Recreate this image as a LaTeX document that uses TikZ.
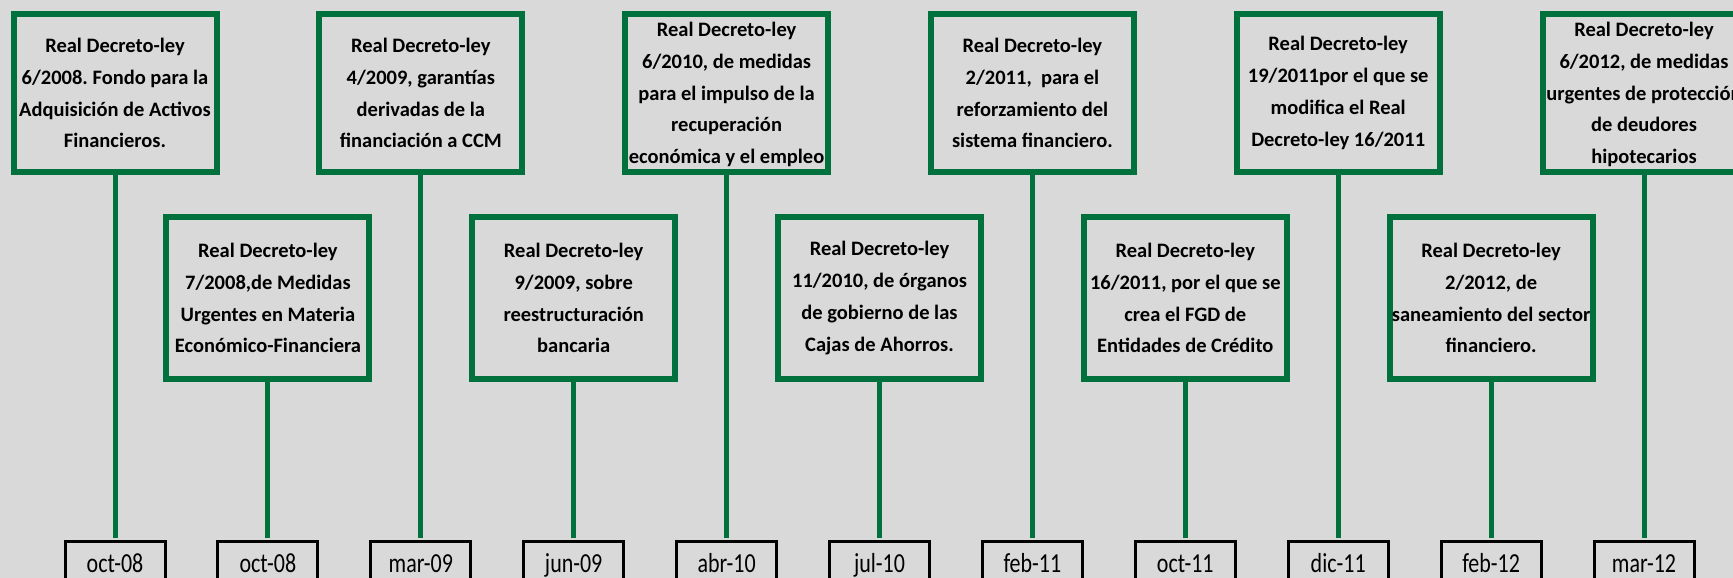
\documentclass[tikz,border=0pt]{standalone}
\usepackage{fontspec}
\usepackage{graphicx}
\setmainfont{Carlito}
\frenchspacing
\definecolor{bggray}{HTML}{D9D9D9}
\definecolor{lawgreen}{RGB}{0,112,60}
\tikzset{
  lawbox/.style={draw=lawgreen, line width=6pt, fill=bggray, inner sep=0pt,
    minimum width=203pt, align=center,
    font=\fontsize{20.5}{31.8}\selectfont\bfseries},
  upbox/.style={lawbox, minimum height=158pt},
  lowbox/.style={lawbox, minimum height=162pt},
  datebox/.style={draw=black, line width=3pt, fill=bggray, inner sep=0pt,
    minimum width=100pt, text height=31.5pt, text depth=25pt, anchor=north,
    font=\fontsize{22}{26}\selectfont},
  conn/.style={draw=lawgreen, line width=5pt, shorten >=1.5pt}
}
\newcommand{\dtxt}[1]{\scalebox{1}[1.25]{#1}}
\begin{document}
\begin{tikzpicture}[x=1pt,y=-1pt]
\fill[bggray] (0,0) rectangle (1733,578);
\useasboundingbox (0,0) rectangle (1733,578);
\clip (0,0) rectangle (1733,578);

% upper boxes
\node[upbox] (b0) at (115,93) {Real Decreto-ley\\6/2008. Fondo para la\\Adquisición de Activos\\Financieros.};
\node[upbox] (b2) at (420.8,93) {Real Decreto-ley\\4/2009, garantías\\derivadas de la\\financiación a CCM};
\node[upbox, text depth=-5pt] (b4) at (726.6,93) {Real Decreto-ley\\6/2010, de medidas\\para el impulso de la\\recuperación\\económica y el empleo};
\node[upbox] (b6) at (1032.4,93) {Real Decreto-ley\\2/2011,\ \ para el\\reforzamiento del\\sistema financiero.};
\node[upbox] (b8) at (1338.2,93) {Real Decreto-ley\\19/2011por el que se\\modifica el Real\\Decreto-ley 16/2011};
\node[upbox, text depth=-5pt] (b10) at (1644,93) {Real Decreto-ley\\6/2012, de medidas\\urgentes de protección\\de deudores\\hipotecarios};

% lower boxes
\node[lowbox] (b1) at (267.9,298) {Real Decreto-ley\\7/2008,de Medidas\\Urgentes en Materia\\Económico-Financiera};
\node[lowbox] (b3) at (573.7,298) {Real Decreto-ley\\9/2009, sobre\\reestructuración\\bancaria};
\node[lowbox] (b5) at (879.5,298) {Real Decreto-ley\\11/2010, de órganos\\de gobierno de las\\Cajas de Ahorros.};
\node[lowbox] (b7) at (1185.3,298) {Real Decreto-ley\\16/2011, por el que se\\crea el FGD de\\Entidades de Crédito};
\node[lowbox] (b9) at (1491.1,298) {Real Decreto-ley\\2/2012, de\\saneamiento del sector\\financiero.};

% date boxes
\node[datebox] (d0) at (115,539.5) {\dtxt{oct-08}};
\node[datebox] (d1) at (267.9,539.5) {\dtxt{oct-08}};
\node[datebox] (d2) at (420.8,539.5) {\dtxt{mar-09}};
\node[datebox] (d3) at (573.7,539.5) {\dtxt{jun-09}};
\node[datebox] (d4) at (726.6,539.5) {\dtxt{abr-10}};
\node[datebox] (d5) at (879.5,539.5) {\dtxt{jul-10}};
\node[datebox] (d6) at (1032.4,539.5) {\dtxt{feb-11}};
\node[datebox] (d7) at (1185.3,539.5) {\dtxt{oct-11}};
\node[datebox] (d8) at (1338.2,539.5) {\dtxt{dic-11}};
\node[datebox] (d9) at (1491.1,539.5) {\dtxt{feb-12}};
\node[datebox] (d10) at (1644,539.5) {\dtxt{mar-12}};

% connectors
\foreach \i in {0,...,10} {
  \draw[conn] (b\i.south) -- (d\i.north);
}
\end{tikzpicture}
\end{document}
